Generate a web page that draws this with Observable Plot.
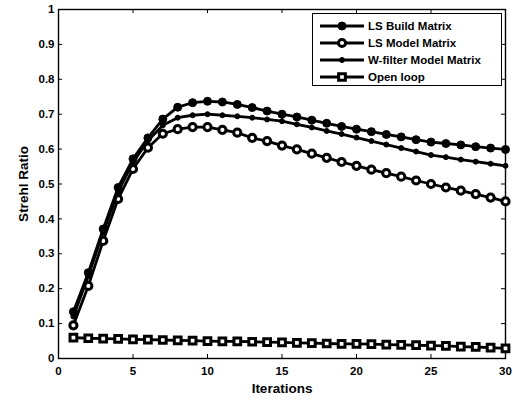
<!DOCTYPE html>
<html>
<head>
<meta charset="utf-8">
<script src="https://cdn.jsdelivr.net/npm/d3@7"></script>
<script src="https://cdn.jsdelivr.net/npm/@observablehq/plot@0.6"></script>
<style>
  body { margin: 0; background: #fff; }
  #wrap { position: relative; width: 513px; height: 400px; font-family: "Liberation Sans", Arial, sans-serif; }
  #legend { position: absolute; left: 312px; top: 13px; width: 190px; height: 73px; border: 1.5px solid #000; background: #fff; box-sizing: border-box; padding-top: 3px; }
  .row { display: flex; align-items: center; height: 17px; font-weight: bold; font-size: 11.5px; color: #000; }
  .row svg { margin-left: 6px; margin-right: 3px; }
</style>
</head>
<body>
<div id="wrap"></div>
<script>
const iterations = [1,2,3,4,5,6,7,8,9,10,11,12,13,14,15,16,17,18,19,20,21,22,23,24,25,26,27,28,29,30];
const lsBuild = [0.134,0.246,0.371,0.490,0.572,0.632,0.686,0.720,0.733,0.737,0.735,0.728,0.719,0.709,0.700,0.692,0.683,0.674,0.665,0.657,0.650,0.642,0.635,0.627,0.620,0.616,0.612,0.607,0.603,0.599];
const lsModel = [0.095,0.208,0.337,0.457,0.543,0.604,0.644,0.657,0.663,0.663,0.655,0.647,0.632,0.623,0.610,0.599,0.587,0.575,0.563,0.552,0.541,0.531,0.521,0.510,0.500,0.490,0.481,0.471,0.461,0.450];
const wFilter = [0.120,0.236,0.362,0.478,0.562,0.624,0.668,0.690,0.697,0.700,0.697,0.694,0.690,0.685,0.680,0.671,0.662,0.652,0.643,0.633,0.623,0.613,0.603,0.593,0.583,0.577,0.570,0.564,0.558,0.552];
const openLoop = [0.060,0.058,0.057,0.056,0.055,0.054,0.053,0.052,0.051,0.050,0.049,0.049,0.048,0.047,0.046,0.045,0.044,0.043,0.042,0.042,0.041,0.040,0.039,0.038,0.037,0.036,0.034,0.033,0.031,0.029];
const seriesNames = ["LS Build Matrix","LS Model Matrix","W-filter Model Matrix","Open loop"];
const xTicks = [0,5,10,15,20,25,30];
const yTicks = [0,0.1,0.2,0.3,0.4,0.5,0.6,0.7,0.8,0.9,1];
const yTickLabels = ["0","0.1","0.2","0.3","0.4","0.5","0.6","0.7","0.8","0.9","1"];

const W = 513, H = 400, ML = 58, MR = 8, MT = 9, MB = 42;
const frameW = W - ML - MR, frameH = H - MT - MB, TICK = 4;

const series = [lsBuild, lsModel, wFilter, openLoop];
const styles = [
  {symbol: "circle", r: 4, fill: "#000", stroke: "#000", sw: 1},
  {symbol: "circle", r: 3.6, fill: "#fff", stroke: "#000", sw: 3},
  {symbol: "circle", r: 2.5, fill: "#000", stroke: "#000", sw: 1},
  {symbol: "square", r: 3.8, fill: "#fff", stroke: "#000", sw: 3}
];
const rows = [];
series.forEach((vals, si) => vals.forEach((v, i) => rows.push({s: seriesNames[si], x: iterations[i], y: v})));

const marks = [Plot.frame({stroke: "#000", strokeWidth: 1.4})];
seriesNames.forEach((name, si) => {
  const d = rows.filter(r => r.s === name);
  const st = styles[si];
  marks.push(Plot.line(d, {x: "x", y: "y", stroke: "#000", strokeWidth: 2.8}));
  marks.push(Plot.dot(d, {x: "x", y: "y", symbol: () => st.symbol, r: st.r, fill: st.fill, stroke: st.stroke, strokeWidth: st.sw}));
});

marks.push(
  // inward ticks on all four sides
  Plot.tickX(xTicks, {x: d => d, insetTop: frameH - TICK, stroke: "#000", strokeWidth: 1}),
  Plot.tickX(xTicks, {x: d => d, insetBottom: frameH - TICK, stroke: "#000", strokeWidth: 1}),
  Plot.tickY(yTicks, {y: d => d, insetRight: frameW - TICK, stroke: "#000", strokeWidth: 1}),
  Plot.tickY(yTicks, {y: d => d, insetLeft: frameW - TICK, stroke: "#000", strokeWidth: 1}),
  Plot.axisX({anchor: "bottom", ticks: xTicks, tickSize: 0, tickPadding: 8, fontWeight: "bold", fontSize: 11.5, label: "Iterations", labelAnchor: "center", labelOffset: 34, labelArrow: "none"}),
  Plot.axisY({anchor: "left", ticks: yTicks, tickFormat: d => yTickLabels[yTicks.indexOf(d)], tickSize: 0, tickPadding: 4, fontWeight: "bold", fontSize: 11.5, label: "Strehl Ratio", labelAnchor: "center", labelOffset: 40, labelArrow: "none"})
);

const chart = Plot.plot({
  width: W,
  height: H,
  marginLeft: ML,
  marginRight: MR,
  marginTop: MT,
  marginBottom: MB,
  style: {fontFamily: "'Liberation Sans', Arial, sans-serif", color: "#000", background: "#fff"},
  x: {domain: [0, 30]},
  y: {domain: [0, 1]},
  marks
});
chart.querySelectorAll("[aria-label='y-axis label'] text, [aria-label='x-axis label'] text").forEach(t => {
  t.setAttribute("font-weight", "bold");
  t.setAttribute("font-size", "13.5");
});
const wrap = document.getElementById("wrap");
wrap.appendChild(chart);

const legend = d3.select(wrap).append("div").attr("id", "legend");
seriesNames.forEach((name, si) => {
  const st = styles[si];
  const row = legend.append("div").attr("class", "row");
  const svg = row.append("svg").attr("width", 46).attr("height", 14);
  svg.append("line").attr("x1", 1).attr("x2", 45).attr("y1", 7).attr("y2", 7).attr("stroke", "#000").attr("stroke-width", 2.8);
  const sym = st.symbol === "square" ? d3.symbolSquare : d3.symbolCircle;
  const area = Math.PI * st.r * st.r;
  svg.append("path").attr("transform", "translate(23,7)").attr("d", d3.symbol(sym, area)())
    .attr("fill", st.fill).attr("stroke", st.stroke).attr("stroke-width", st.sw);
  row.append("span").text(name);
});
</script>
</body>
</html>
